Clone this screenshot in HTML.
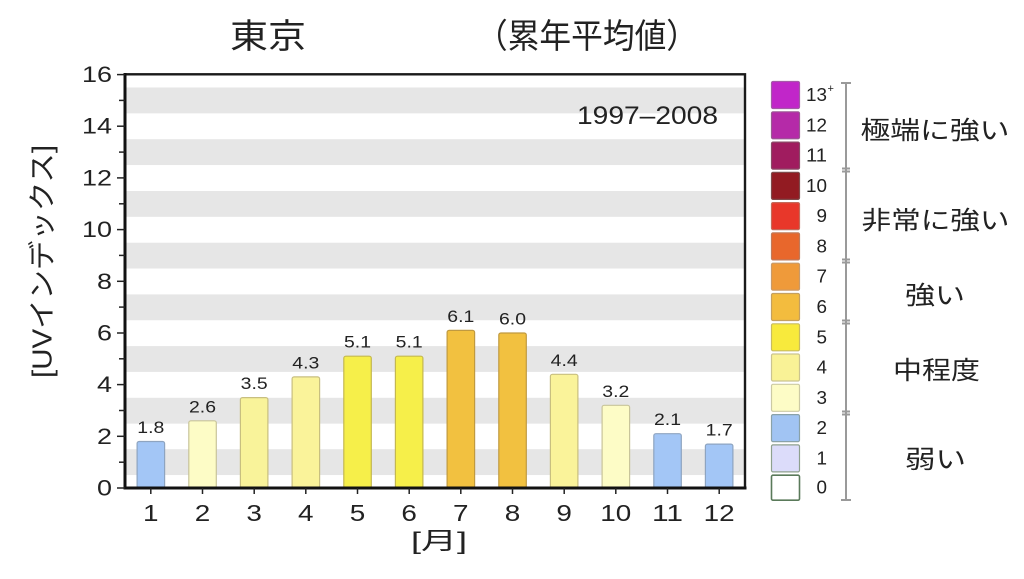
<!DOCTYPE html>
<html><head><meta charset="utf-8"><style>
html,body{margin:0;padding:0;background:#fff;}
svg{display:block;}
text{font-family:"Liberation Sans","Noto Sans CJK JP",sans-serif;fill:#222;}
</style></head><body>
<svg width="1024" height="579" viewBox="0 0 1024 579" xmlns="http://www.w3.org/2000/svg">
<rect width="1024" height="579" fill="#fff"/>
<!-- Title -->
<text x="230" y="37" font-size="34" dominant-baseline="central" textLength="76" lengthAdjust="spacingAndGlyphs">東京</text>
<text x="476" y="37" font-size="34" dominant-baseline="central" textLength="222" lengthAdjust="spacingAndGlyphs">（累年平均値）</text>

<!-- stripes -->
<g fill="#e6e6e6">
<rect x="125" y="87.5" width="620" height="25.84"/>
<rect x="125" y="139.2" width="620" height="25.84"/>
<rect x="125" y="191.0" width="620" height="25.84"/>
<rect x="125" y="242.7" width="620" height="25.84"/>
<rect x="125" y="294.4" width="620" height="25.84"/>
<rect x="125" y="346.1" width="620" height="25.84"/>
<rect x="125" y="397.8" width="620" height="25.84"/>
<rect x="125" y="449.2" width="620" height="25.84"/>
</g>

<text x="577" y="116" font-size="25" dominant-baseline="central" textLength="141" lengthAdjust="spacingAndGlyphs">1997–2008</text>

<!-- bars -->
<g stroke-width="1.2">
<rect x="137.1" y="441.5" width="27.5" height="46.5" rx="2" fill="#a3c6f6" stroke="#8ea4c0"/>
<rect x="188.8" y="420.8" width="27.5" height="67.2" rx="2" fill="#fdfcc6" stroke="#c8c49a"/>
<rect x="240.4" y="397.6" width="27.5" height="90.4" rx="2" fill="#f9f39a" stroke="#c8bf80"/>
<rect x="292.1" y="376.9" width="27.5" height="111.1" rx="2" fill="#faf39a" stroke="#c8bf80"/>
<rect x="343.8" y="356.2" width="27.5" height="131.8" rx="2" fill="#f6ef4a" stroke="#c4b850"/>
<rect x="395.4" y="356.2" width="27.5" height="131.8" rx="2" fill="#f6ef4a" stroke="#c4b850"/>
<rect x="447.1" y="330.4" width="27.5" height="157.6" rx="2" fill="#f2c140" stroke="#c09a40"/>
<rect x="498.8" y="333.0" width="27.5" height="155.0" rx="2" fill="#f2c140" stroke="#c09a40"/>
<rect x="550.4" y="374.3" width="27.5" height="113.7" rx="2" fill="#faf39a" stroke="#c8bf80"/>
<rect x="602.1" y="405.3" width="27.5" height="82.7" rx="2" fill="#fdfcc6" stroke="#c8c49a"/>
<rect x="653.8" y="433.7" width="27.5" height="54.3" rx="2" fill="#a3c6f6" stroke="#8ea4c0"/>
<rect x="705.4" y="444.1" width="27.5" height="43.9" rx="2" fill="#a3c6f6" stroke="#8ea4c0"/>
</g>

<!-- value labels -->
<g font-size="17" text-anchor="middle" dominant-baseline="central">
<text x="150.8" y="427.5" textLength="27" lengthAdjust="spacingAndGlyphs">1.8</text>
<text x="202.5" y="406.8" textLength="27" lengthAdjust="spacingAndGlyphs">2.6</text>
<text x="254.2" y="383.6" textLength="27" lengthAdjust="spacingAndGlyphs">3.5</text>
<text x="305.8" y="362.9" textLength="27" lengthAdjust="spacingAndGlyphs">4.3</text>
<text x="357.5" y="342.2" textLength="27" lengthAdjust="spacingAndGlyphs">5.1</text>
<text x="409.2" y="342.2" textLength="27" lengthAdjust="spacingAndGlyphs">5.1</text>
<text x="460.8" y="316.4" textLength="27" lengthAdjust="spacingAndGlyphs">6.1</text>
<text x="512.5" y="319.0" textLength="27" lengthAdjust="spacingAndGlyphs">6.0</text>
<text x="564.2" y="360.3" textLength="27" lengthAdjust="spacingAndGlyphs">4.4</text>
<text x="615.8" y="391.3" textLength="27" lengthAdjust="spacingAndGlyphs">3.2</text>
<text x="667.5" y="419.7" textLength="27" lengthAdjust="spacingAndGlyphs">2.1</text>
<text x="719.2" y="430.1" textLength="27" lengthAdjust="spacingAndGlyphs">1.7</text>
</g>

<!-- axes frame -->
<rect x="125" y="74.3" width="620" height="413.7" fill="none" stroke="#1a1a1a" stroke-width="2.4"/>
<line x1="125" y1="73" x2="125" y2="489.5" stroke="#111" stroke-width="3"/>
<line x1="123.5" y1="488" x2="746.5" y2="488" stroke="#111" stroke-width="3"/>

<!-- y ticks -->
<g stroke="#222" stroke-width="1.5">
<line x1="117" y1="488" x2="125" y2="488"/>
<line x1="119" y1="462.2" x2="125" y2="462.2"/>
<line x1="117" y1="436.3" x2="125" y2="436.3"/>
<line x1="119" y1="410.5" x2="125" y2="410.5"/>
<line x1="117" y1="384.6" x2="125" y2="384.6"/>
<line x1="119" y1="358.8" x2="125" y2="358.8"/>
<line x1="117" y1="333.0" x2="125" y2="333.0"/>
<line x1="119" y1="307.1" x2="125" y2="307.1"/>
<line x1="117" y1="281.3" x2="125" y2="281.3"/>
<line x1="119" y1="255.4" x2="125" y2="255.4"/>
<line x1="117" y1="229.6" x2="125" y2="229.6"/>
<line x1="119" y1="203.8" x2="125" y2="203.8"/>
<line x1="117" y1="177.9" x2="125" y2="177.9"/>
<line x1="119" y1="152.1" x2="125" y2="152.1"/>
<line x1="117" y1="126.2" x2="125" y2="126.2"/>
<line x1="119" y1="100.4" x2="125" y2="100.4"/>
<line x1="117" y1="74.6" x2="125" y2="74.6"/>
</g>
<g font-size="22" text-anchor="end" dominant-baseline="central">
<text x="112" y="488" textLength="15" lengthAdjust="spacingAndGlyphs">0</text>
<text x="112" y="436.3" textLength="15" lengthAdjust="spacingAndGlyphs">2</text>
<text x="112" y="384.6" textLength="15" lengthAdjust="spacingAndGlyphs">4</text>
<text x="112" y="333.0" textLength="15" lengthAdjust="spacingAndGlyphs">6</text>
<text x="112" y="281.3" textLength="15" lengthAdjust="spacingAndGlyphs">8</text>
<text x="112" y="229.6" textLength="30" lengthAdjust="spacingAndGlyphs">10</text>
<text x="112" y="177.9" textLength="30" lengthAdjust="spacingAndGlyphs">12</text>
<text x="112" y="126.2" textLength="30" lengthAdjust="spacingAndGlyphs">14</text>
<text x="112" y="74.6" textLength="30" lengthAdjust="spacingAndGlyphs">16</text>
</g>

<!-- x ticks -->
<g stroke="#222" stroke-width="1.5">
<line x1="150.8" y1="488" x2="150.8" y2="494"/>
<line x1="202.5" y1="488" x2="202.5" y2="494"/>
<line x1="254.2" y1="488" x2="254.2" y2="494"/>
<line x1="305.8" y1="488" x2="305.8" y2="494"/>
<line x1="357.5" y1="488" x2="357.5" y2="494"/>
<line x1="409.2" y1="488" x2="409.2" y2="494"/>
<line x1="460.8" y1="488" x2="460.8" y2="494"/>
<line x1="512.5" y1="488" x2="512.5" y2="494"/>
<line x1="564.2" y1="488" x2="564.2" y2="494"/>
<line x1="615.8" y1="488" x2="615.8" y2="494"/>
<line x1="667.5" y1="488" x2="667.5" y2="494"/>
<line x1="719.2" y1="488" x2="719.2" y2="494"/>
</g>
<g font-size="23" text-anchor="middle" dominant-baseline="central">
<text x="150.8" y="513" textLength="15.5" lengthAdjust="spacingAndGlyphs">1</text>
<text x="202.5" y="513" textLength="15.5" lengthAdjust="spacingAndGlyphs">2</text>
<text x="254.2" y="513" textLength="15.5" lengthAdjust="spacingAndGlyphs">3</text>
<text x="305.8" y="513" textLength="15.5" lengthAdjust="spacingAndGlyphs">4</text>
<text x="357.5" y="513" textLength="15.5" lengthAdjust="spacingAndGlyphs">5</text>
<text x="409.2" y="513" textLength="15.5" lengthAdjust="spacingAndGlyphs">6</text>
<text x="460.8" y="513" textLength="15.5" lengthAdjust="spacingAndGlyphs">7</text>
<text x="512.5" y="513" textLength="15.5" lengthAdjust="spacingAndGlyphs">8</text>
<text x="564.2" y="513" textLength="15.5" lengthAdjust="spacingAndGlyphs">9</text>
<text x="615.8" y="513" textLength="31" lengthAdjust="spacingAndGlyphs">10</text>
<text x="667.5" y="513" textLength="31" lengthAdjust="spacingAndGlyphs">11</text>
<text x="719.2" y="513" textLength="31" lengthAdjust="spacingAndGlyphs">12</text>
</g>
<text x="411" y="541.5" font-size="24" dominant-baseline="central" textLength="56" lengthAdjust="spacingAndGlyphs">[月]</text>

<!-- y axis title -->
<g transform="translate(42,261.5) scale(1.1,1) rotate(-90)">
<text x="0" y="0" font-size="25" text-anchor="middle" dominant-baseline="central" textLength="233" lengthAdjust="spacingAndGlyphs">[UVインデックス]</text>
</g>

<!-- legend boxes -->
<g stroke-width="1.2">
<rect x="771.5" y="81.5" width="28" height="27" rx="1.5" fill="#c126c9" stroke="#a55aa8"/>
<rect x="771.5" y="111.8" width="28" height="27" rx="1.5" fill="#b52aa8" stroke="#9a5a92"/>
<rect x="771.5" y="142.1" width="28" height="27" rx="1.5" fill="#a01c5f" stroke="#8a4a66"/>
<rect x="771.5" y="172.4" width="28" height="27" rx="1.5" fill="#921b22" stroke="#7e4a4a"/>
<rect x="771.5" y="202.6" width="28" height="27" rx="1.5" fill="#e8372a" stroke="#c46a5a"/>
<rect x="771.5" y="232.9" width="28" height="27" rx="1.5" fill="#e8672c" stroke="#c07a5a"/>
<rect x="771.5" y="263.2" width="28" height="27" rx="1.5" fill="#ef9a3a" stroke="#c89a6a"/>
<rect x="771.5" y="293.5" width="28" height="27" rx="1.5" fill="#f3bc3e" stroke="#c4a060"/>
<rect x="771.5" y="323.8" width="28" height="27" rx="1.5" fill="#f8ea3c" stroke="#c8bc60"/>
<rect x="771.5" y="354.0" width="28" height="27" rx="1.5" fill="#f9f296" stroke="#cbc490"/>
<rect x="771.5" y="384.3" width="28" height="27" rx="1.5" fill="#fdfcc6" stroke="#cccaa4"/>
<rect x="771.5" y="414.6" width="28" height="27" rx="1.5" fill="#a1c4f3" stroke="#8aa2a8"/>
<rect x="771.5" y="444.9" width="28" height="27" rx="1.5" fill="#dcdcfa" stroke="#8ea08e"/>
<rect x="771.5" y="475.2" width="28" height="25" rx="1.5" fill="#ffffff" stroke="#5a7a5a" stroke-width="1.6"/>
</g>
<g font-size="18" text-anchor="end" dominant-baseline="central">
<text x="827" y="95" textLength="21" lengthAdjust="spacingAndGlyphs">13</text>
<text x="827" y="125.3" textLength="21" lengthAdjust="spacingAndGlyphs">12</text>
<text x="827" y="155.6" textLength="21" lengthAdjust="spacingAndGlyphs">11</text>
<text x="827" y="185.9" textLength="21" lengthAdjust="spacingAndGlyphs">10</text>
<text x="827" y="216.1" textLength="10.5" lengthAdjust="spacingAndGlyphs">9</text>
<text x="827" y="246.4" textLength="10.5" lengthAdjust="spacingAndGlyphs">8</text>
<text x="827" y="276.7" textLength="10.5" lengthAdjust="spacingAndGlyphs">7</text>
<text x="827" y="307.0" textLength="10.5" lengthAdjust="spacingAndGlyphs">6</text>
<text x="827" y="337.3" textLength="10.5" lengthAdjust="spacingAndGlyphs">5</text>
<text x="827" y="367.5" textLength="10.5" lengthAdjust="spacingAndGlyphs">4</text>
<text x="827" y="397.8" textLength="10.5" lengthAdjust="spacingAndGlyphs">3</text>
<text x="827" y="428.1" textLength="10.5" lengthAdjust="spacingAndGlyphs">2</text>
<text x="827" y="458.4" textLength="10.5" lengthAdjust="spacingAndGlyphs">1</text>
<text x="827" y="487.7" textLength="10.5" lengthAdjust="spacingAndGlyphs">0</text>
</g>
<text x="827.5" y="89" font-size="11" dominant-baseline="central">+</text>

<!-- bracket -->
<g stroke="#9a9a9a" stroke-width="2">
<line x1="846" y1="83" x2="846" y2="500"/>
<line x1="841" y1="83" x2="851" y2="83"/>
<line x1="841" y1="500" x2="851" y2="500"/>
<line x1="842" y1="168.5" x2="850" y2="168.5"/>
<line x1="842" y1="171.5" x2="850" y2="171.5"/>
<line x1="842" y1="259.5" x2="850" y2="259.5"/>
<line x1="842" y1="262.5" x2="850" y2="262.5"/>
<line x1="842" y1="320.5" x2="850" y2="320.5"/>
<line x1="842" y1="323.5" x2="850" y2="323.5"/>
<line x1="842" y1="411.5" x2="850" y2="411.5"/>
<line x1="842" y1="414.5" x2="850" y2="414.5"/>
</g>

<!-- legend category labels -->
<g font-size="25" dominant-baseline="central">
<text x="860.5" y="131" textLength="149" lengthAdjust="spacingAndGlyphs">極端に強い</text>
<text x="861.5" y="221" textLength="148" lengthAdjust="spacingAndGlyphs">非常に強い</text>
<text x="905" y="296" textLength="60" lengthAdjust="spacingAndGlyphs">強い</text>
<text x="893" y="371" textLength="87" lengthAdjust="spacingAndGlyphs">中程度</text>
<text x="905" y="460" textLength="61" lengthAdjust="spacingAndGlyphs">弱い</text>
</g>
</svg>
</body></html>
